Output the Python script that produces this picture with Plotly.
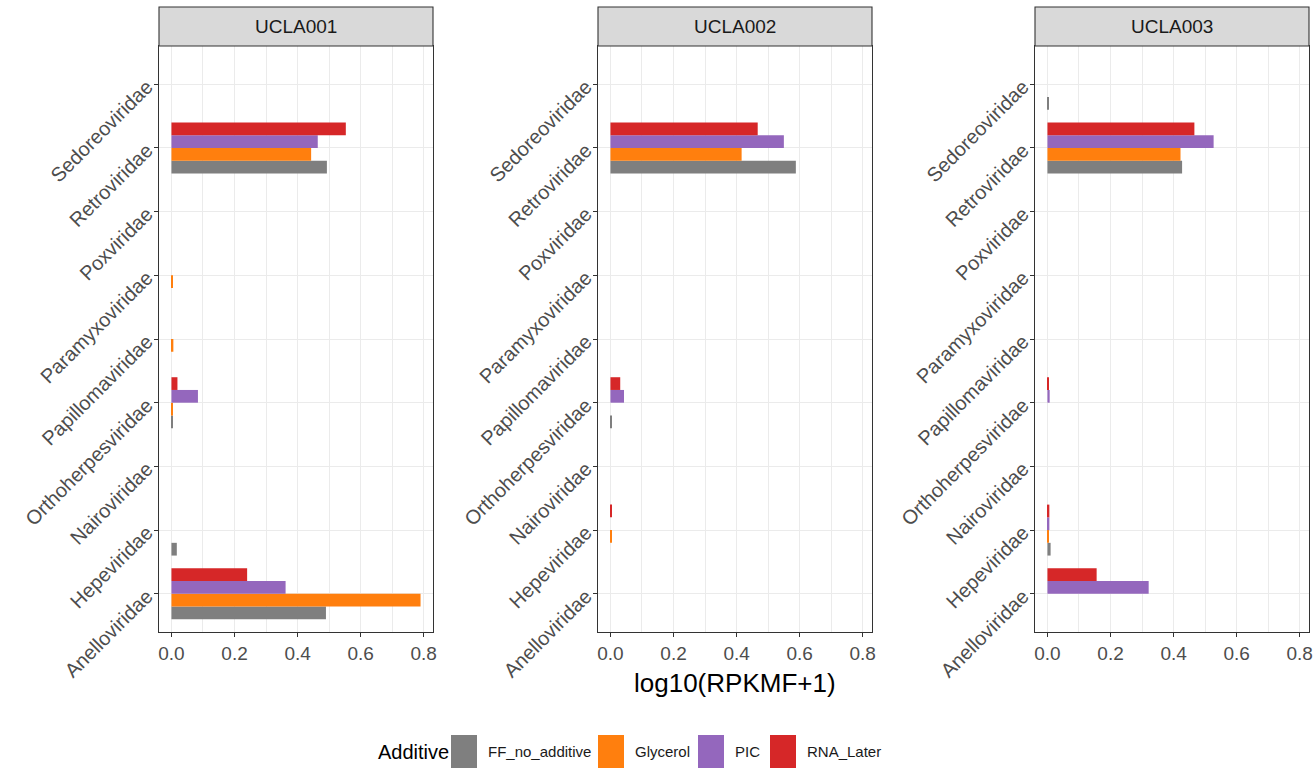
import plotly.graph_objects as go

W, H = 1314, 770

# ---- data ----
families = ["Anelloviridae", "Hepeviridae", "Nairoviridae", "Orthoherpesviridae",
            "Papillomaviridae", "Paramyxoviridae", "Poxviridae", "Retroviridae",
            "Sedoreoviridae"]
samples = ["UCLA001", "UCLA002", "UCLA003"]
additives = ["FF_no_additive", "Glycerol", "PIC", "RNA_Later"]
additive_colors = ["#7f7f7f", "#ff7f0e", "#9467bd", "#d62728"]

ucla001_ff = [0.490, 0.017, None, 0.003, None, None, None, 0.493, None]
ucla001_glycerol = [0.790, None, None, 0.002, 0.006, 0.002, None, 0.443, None]
ucla001_pic = [0.362, None, None, 0.084, None, None, None, 0.464, None]
ucla001_rna = [0.240, None, None, 0.019, None, None, None, 0.553, None]

ucla002_ff = [None, None, None, 0.002, None, None, None, 0.588, None]
ucla002_glycerol = [None, 0.002, None, None, None, None, None, 0.416, None]
ucla002_pic = [None, None, None, 0.043, None, None, None, 0.550, None]
ucla002_rna = [None, 0.004, None, 0.031, None, None, None, 0.467, None]

ucla003_ff = [None, 0.010, None, None, None, None, None, 0.427, 0.002]
ucla003_glycerol = [None, 0.004, None, None, None, None, None, 0.422, None]
ucla003_pic = [0.321, 0.006, None, 0.007, None, None, None, 0.527, None]
ucla003_rna = [0.156, 0.006, None, 0.003, None, None, None, 0.466, None]

panel_values = [
    [ucla001_ff, ucla001_glycerol, ucla001_pic, ucla001_rna],
    [ucla002_ff, ucla002_glycerol, ucla002_pic, ucla002_rna],
    [ucla003_ff, ucla003_glycerol, ucla003_pic, ucla003_rna],
]
x_ticks = [0.0, 0.2, 0.4, 0.6, 0.8]

# ---- layout geometry (screen pixels) ----
panel_left = [159, 598, 1035]
panel_w = 274
panel_top, panel_bot = 46, 632
strip_top = 7


def px(x):
    return x / W


def py(y):
    return 1 - y / H


fig = go.Figure()
layout = dict(
    width=W, height=H,
    margin=dict(l=0, r=0, t=0, b=0),
    paper_bgcolor="white", plot_bgcolor="white",
    barmode="group", bargap=0.2, bargroupgap=0,
    showlegend=False,
    font=dict(family="Liberation Sans, Arial, sans-serif", color="#4d4d4d"),
    shapes=[], annotations=[],
)

for p, sample in enumerate(samples):
    sfx = "" if p == 0 else str(p + 1)
    xa, ya = "x" + sfx, "y" + sfx
    for a, add in enumerate(additives):
        fig.add_trace(go.Bar(
            x=panel_values[p][a], y=families, orientation="h",
            name=add, marker=dict(color=additive_colors[a], line=dict(width=0)),
            xaxis=xa, yaxis=ya, showlegend=False,
            offsetgroup=add,
        ))
    dom_x = [px(panel_left[p]), min(1.0, px(panel_left[p] + panel_w))]
    layout["xaxis" + sfx] = dict(
        domain=dom_x, anchor=ya, range=[-0.0395, 0.8295],
        tickvals=x_ticks, tickformat=".1f",
        showgrid=True, gridcolor="#ebebeb", gridwidth=1.1,
        minor=dict(dtick=0.1, tick0=0, showgrid=True, gridcolor="#ebebeb",
                   gridwidth=0.6, ticklen=0),
        showline=True, mirror=True, linecolor="#333333", linewidth=1.1,
        ticks="outside", ticklen=4, tickcolor="#333333", tickwidth=1.1,
        tickfont=dict(size=19, color="#4d4d4d"),
        zeroline=False, automargin=False, fixedrange=True,
    )
    layout["yaxis" + sfx] = dict(
        domain=[py(panel_bot), py(panel_top)], anchor=xa,
        type="category", categoryorder="array", categoryarray=families,
        range=[-0.6, 8.6],
        showgrid=True, gridcolor="#ebebeb", gridwidth=1.1,
        showline=True, mirror=True, linecolor="#333333", linewidth=1.1,
        ticks="outside", ticklen=4, tickcolor="#333333", tickwidth=1.1,
        tickangle=-45, tickfont=dict(size=20, color="#4d4d4d"),
        ticklabelstandoff=3,
        zeroline=False, automargin=False, fixedrange=True,
    )
    # facet strip
    layout["shapes"].append(dict(
        type="rect", xref="paper", yref="paper",
        x0=dom_x[0], x1=dom_x[1], y0=py(panel_top), y1=py(strip_top),
        fillcolor="#d9d9d9", line=dict(color="#333333", width=1.1), layer="above",
    ))
    layout["annotations"].append(dict(
        text=sample, xref="paper", yref="paper",
        x=(dom_x[0] + dom_x[1]) / 2, y=(py(panel_top) + py(strip_top)) / 2,
        showarrow=False, xanchor="center", yanchor="middle",
        font=dict(size=19, color="#1a1a1a"),
    ))

# x axis title
layout["annotations"].append(dict(
    text="log10(RPKMF+1)", xref="paper", yref="paper",
    x=px(panel_left[1] + panel_w / 2), y=py(683),
    showarrow=False, xanchor="center", yanchor="middle",
    font=dict(size=26, color="#000000"),
))

# legend (drawn manually to mimic ggplot key boxes)
legend_y0, legend_y1 = 735, 768
layout["annotations"].append(dict(
    text="Additive", xref="paper", yref="paper",
    x=px(376), y=py((legend_y0 + legend_y1) / 2),
    showarrow=False, xanchor="left", yanchor="middle",
    font=dict(size=20, color="#000000"),
))
key_left = [451, 598, 698, 770]
key_w = 26
for a, add in enumerate(additives):
    layout["shapes"].append(dict(
        type="rect", xref="paper", yref="paper",
        x0=px(key_left[a]), x1=px(key_left[a] + key_w),
        y0=py(legend_y1), y1=py(legend_y0),
        fillcolor=additive_colors[a], line=dict(width=0),
    ))
    layout["annotations"].append(dict(
        text=add, xref="paper", yref="paper",
        x=px(key_left[a] + key_w + 9), y=py((legend_y0 + legend_y1) / 2),
        showarrow=False, xanchor="left", yanchor="middle",
        font=dict(size=15, color="#1a1a1a"),
    ))

fig.update_layout(**layout)
fig.write_html(
    "out.html",
    config={"displayModeBar": False},
    post_script="document.body.style.margin='0';document.body.style.overflow='hidden';",
)
